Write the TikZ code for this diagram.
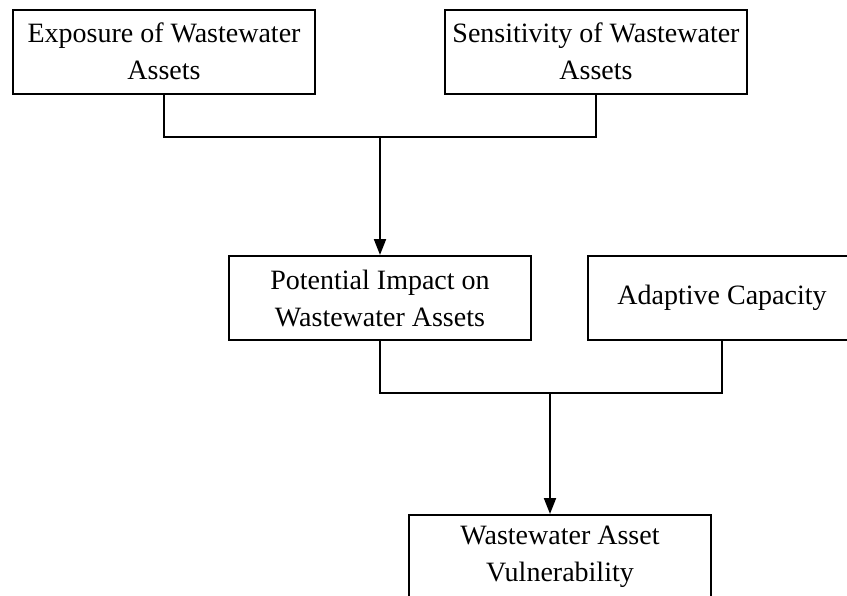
\documentclass[tikz,border=0pt]{standalone}
\usepackage{fontspec}
\setmainfont{Liberation Serif}
\usepackage{tikz}
\usetikzlibrary{arrows.meta}

\begin{document}
\begin{tikzpicture}[x=0.75pt, y=-0.75pt, line width=1.5pt,
        box/.style={draw, rectangle, align=center, inner sep=0pt, minimum width=226.5pt, minimum height=63pt, font=\fontsize{21}{27.75}\selectfont},
        arr/.style={-{Triangle[length=12pt, width=9pt]}}]
        \useasboundingbox (0, 0) rectangle (847, 596);
        \node (expo) at (164, 51.5) [box] {Exposure of Wastewater\\Assets};
        \node (sens) at (596, 51.5) [box] {Sensitivity of Wastewater\\Assets};
        \node (impact) at (380, 298) [box] {Potential Impact on\\Wastewater Assets};
        \node (adapt) at (722, 298) [box, minimum width=201pt] {Adaptive Capacity};
        \node (vuln) at (560, 557) [box] {Wastewater Asset\\Vulnerability};
        \coordinate (j1) at (380, 137);
        \coordinate (j2) at (550, 393);
        \draw [] (expo.south) |- (j1) -| (sens.south);
        \draw [arr] (j1) -- (impact.north);
        \draw [] (impact.south) |- (j2) -| (adapt.south);
        \draw [arr] (j2) -- (j2 |- vuln.north);
    \end{tikzpicture}
\end{document}
